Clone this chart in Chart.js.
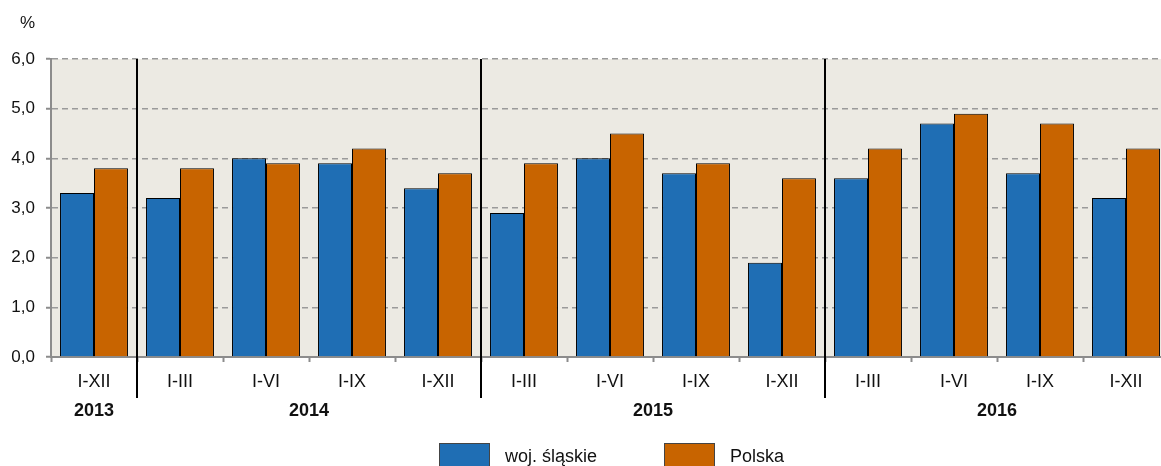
<!DOCTYPE html>
<html>
<head>
<meta charset="utf-8">
<script src="https://cdn.jsdelivr.net/npm/chart.js@4.4.1/dist/chart.umd.min.js"></script>
<style>
  html, body { margin: 0; padding: 0; background: #fff; overflow: hidden; }
  #wrap { width: 1170px; height: 466px; }
</style>
</head>
<body>
<div id="wrap"><canvas id="myChart" width="1170" height="466"></canvas></div>
<script>
// periods (x axis) and the year each period belongs to
const periods = ['I-XII', 'I-III', 'I-VI', 'I-IX', 'I-XII', 'I-III', 'I-VI', 'I-IX', 'I-XII', 'I-III', 'I-VI', 'I-IX', 'I-XII'];
const years = ['2013', '2014', '2015', '2016'];
const yearAnchor = [0, 2.5, 6.5, 10.5];  // middle of each year's group of periods
const yearBreaks = [0.5, 4.5, 8.5];      // boundaries between years

const slaskie = [3.3, 3.2, 4.0, 3.9, 3.4, 2.9, 4.0, 3.7, 1.9, 3.6, 4.7, 3.7, 3.2];
const polska  = [3.8, 3.8, 3.9, 4.2, 3.7, 3.9, 4.5, 3.9, 3.6, 4.2, 4.9, 4.7, 4.2];

const BLUE = 'rgb(31,110,180)';
const ORANGE = 'rgb(200,100,0)';
const FONT = '"Liberation Sans", Arial, sans-serif';

const extras = {
    id: 'extras',
    beforeDraw(chart) {
        const {ctx, chartArea: a} = chart;
        ctx.save();
        ctx.fillStyle = 'rgb(236,234,227)';
        ctx.fillRect(a.left, a.top, a.right - a.left, a.bottom - a.top);
        ctx.restore();
    },
    afterDraw(chart) {
        const {ctx, chartArea: a} = chart;
        const x = chart.scales.x;
        ctx.save();
        // year separators
        ctx.strokeStyle = '#000';
        ctx.lineWidth = 2;
        yearBreaks.forEach(b => {
            const px = Math.round(x.getPixelForValue(b));
            ctx.beginPath();
            ctx.moveTo(px, a.top);
            ctx.lineTo(px, 398);
            ctx.stroke();
        });
        // year labels
        ctx.fillStyle = '#111';
        ctx.font = 'bold 18px ' + FONT;
        ctx.textAlign = 'center';
        ctx.textBaseline = 'middle';
        years.forEach((y, i) => {
            ctx.fillText(y, x.getPixelForValue(yearAnchor[i]), 411);
        });
        // unit
        ctx.font = '17px ' + FONT;
        ctx.textAlign = 'left';
        ctx.fillText('%', 20, 23);
        // legend
        ctx.font = '18px ' + FONT;
        const cx = chart.width / 2;
        const items = [{x: cx - 146}, {x: cx + 79}];
        chart.data.datasets.forEach((ds, i) => {
            const bx = items[i].x;
            ctx.fillStyle = ds.backgroundColor;
            ctx.fillRect(bx, 443, 51, 30);
            ctx.strokeStyle = '#444';
            ctx.lineWidth = 1;
            ctx.strokeRect(bx + 0.5, 443.5, 50, 29);
            ctx.fillStyle = '#111';
            ctx.textAlign = 'left';
            ctx.fillText(ds.label, bx + 66, 457);
        });
        ctx.restore();
    }
};

const chart = new Chart(document.getElementById('myChart'), {
    type: 'bar',
    data: {
        labels: periods,
        datasets: [
            {label: 'woj. śląskie', data: slaskie, backgroundColor: BLUE, borderColor: '#000', borderWidth: 1},
            {label: 'Polska', data: polska, backgroundColor: ORANGE, borderColor: '#000', borderWidth: 1}
        ]
    },
    options: {
        responsive: false,
        animation: false,
        devicePixelRatio: 1,
        categoryPercentage: 0.79,
        barPercentage: 1,
        layout: {padding: {top: 59, left: 0, right: 1, bottom: 0}},
        plugins: {legend: {display: false}, tooltip: {enabled: false}},
        scales: {
            x: {
                grid: {drawOnChartArea: false, drawTicks: true, tickLength: 5, tickColor: '#8c8c8c', tickWidth: 2},
                border: {color: '#8c8c8c', width: 2},
                ticks: {color: '#111', font: {family: FONT, size: 18}, padding: 9, maxRotation: 0, autoSkip: false},
                afterFit(scale) { scale.height = 109; }
            },
            y: {
                min: 0,
                max: 6,
                ticks: {
                    stepSize: 1,
                    color: '#111',
                    font: {family: FONT, size: 17},
                    padding: 11,
                    callback: v => v.toFixed(1).replace('.', ',')
                },
                grid: {color: '#9a9a9a', lineWidth: 1.5, tickLength: 5, tickColor: '#8c8c8c', tickWidth: 2, tickBorderDash: []},
                border: {color: '#8c8c8c', width: 2, dash: [6, 4]},
                afterFit(scale) { scale.width = 51; }
            }
        }
    },
    plugins: [extras]
});
</script>
</body>
</html>
